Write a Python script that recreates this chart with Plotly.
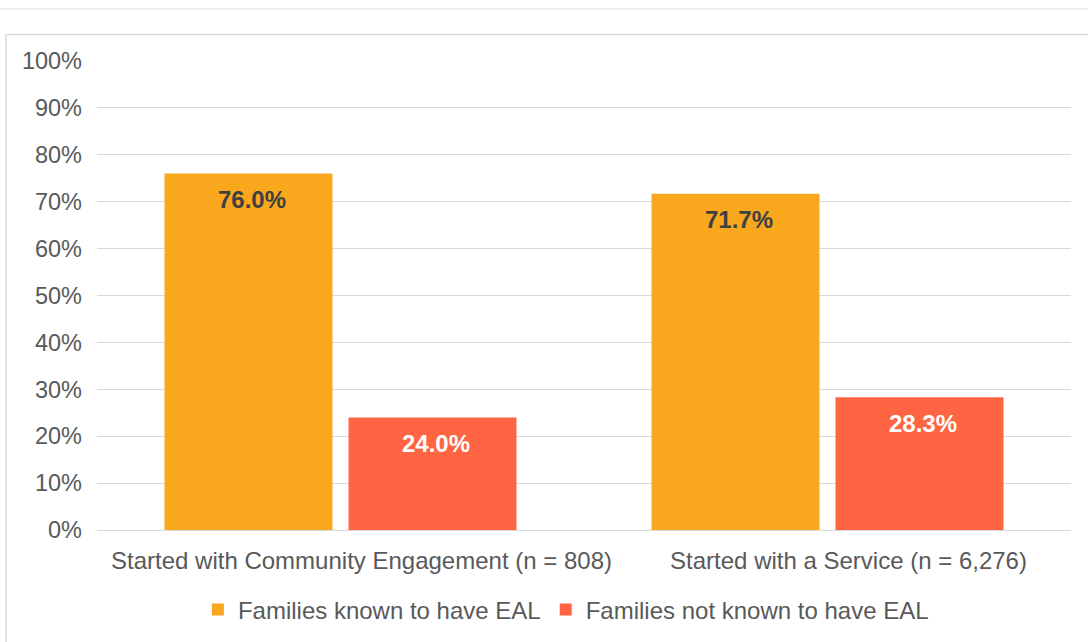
import plotly.graph_objects as go

categories = ["Started with Community Engagement (n = 808)", "Started with a Service (n = 6,276)"]
series_names = ["Families known to have EAL", "Families not known to have EAL"]
known_eal = [0.760, 0.717]
not_known_eal = [0.240, 0.283]

colors = ["#F9A81E", "#FF6542"]
label_colors = ["#404040", "#FFFFFF"]
series_values = [known_eal, not_known_eal]

W, H = 1088, 642
ml, mr, mt, mb = 97, 17, 61, 112
pw, ph = W - ml - mr, H - mt - mb

fig = go.Figure()
for name, vals, col in zip(series_names, series_values, colors):
    fig.add_trace(go.Bar(
        x=categories, y=vals, name=name,
        marker=dict(color=col, line=dict(width=0)),
        hoverinfo="skip",
    ))

# data labels
offsets = [-89, 95]
annotations = []
for vals, off, lc in zip(series_values, offsets, label_colors):
    for cat, v in zip(categories, vals):
        annotations.append(dict(
            x=cat, y=v, xref="x", yref="y", text=f"<b>{v*100:.1f}%</b>",
            showarrow=False, xshift=off, yshift=-26, yanchor="middle",
            font=dict(family="Liberation Sans, Arial, sans-serif", size=24, color=lc),
        ))

def px_x(x):
    return (x - ml) / pw

def px_y(y):
    return (H - mb - y) / ph

shapes = [
    # outer chart border
    dict(type="rect", xref="paper", yref="paper",
         x0=px_x(6), x1=px_x(1100), y0=px_y(34.5), y1=px_y(660),
         line=dict(color="#D9D9D9", width=1.5), fillcolor="rgba(0,0,0,0)", layer="below"),
    # top separator line
    dict(type="line", xref="paper", yref="paper",
         x0=px_x(-10), x1=px_x(1100), y0=px_y(9), y1=px_y(9),
         line=dict(color="#EBEBEB", width=1.5), layer="below"),
]

fig.update_layout(
    width=W, height=H,
    margin=dict(l=ml, r=mr, t=mt, b=mb, pad=0, autoexpand=False),
    paper_bgcolor="white", plot_bgcolor="white",
    font=dict(family="Liberation Sans, Arial, sans-serif", size=24, color="#595959"),
    barmode="group", bargap=0.2444, bargroupgap=0.087,
    showlegend=True,
    legend=dict(orientation="h", x=0.4814, xanchor="center", y=px_y(610), yanchor="middle",
                font=dict(size=24, color="#595959"), bgcolor="rgba(0,0,0,0)",
                itemclick=False, itemdoubleclick=False, tracegroupgap=0),
    xaxis=dict(showgrid=False, showline=False, ticks="", tickfont=dict(size=24, color="#595959"),
               ticklabelstandoff=14, ticklabelshift=21, fixedrange=True, automargin=False),
    yaxis=dict(range=[0, 1], dtick=0.1, tickformat=".0%", showgrid=True, gridcolor="#D9D9D9",
               gridwidth=1.3, zeroline=True, zerolinecolor="#D9D9D9", zerolinewidth=1.3,
               showline=False, ticks="", tickfont=dict(size=23.5, color="#595959"),
               ticklabelstandoff=14, fixedrange=True, automargin=False),
    annotations=annotations,
    shapes=shapes,
)

fig.write_html("out.html", config=dict(displayModeBar=False),
               post_script="document.body.style.margin='0';document.body.style.overflow='hidden';")
